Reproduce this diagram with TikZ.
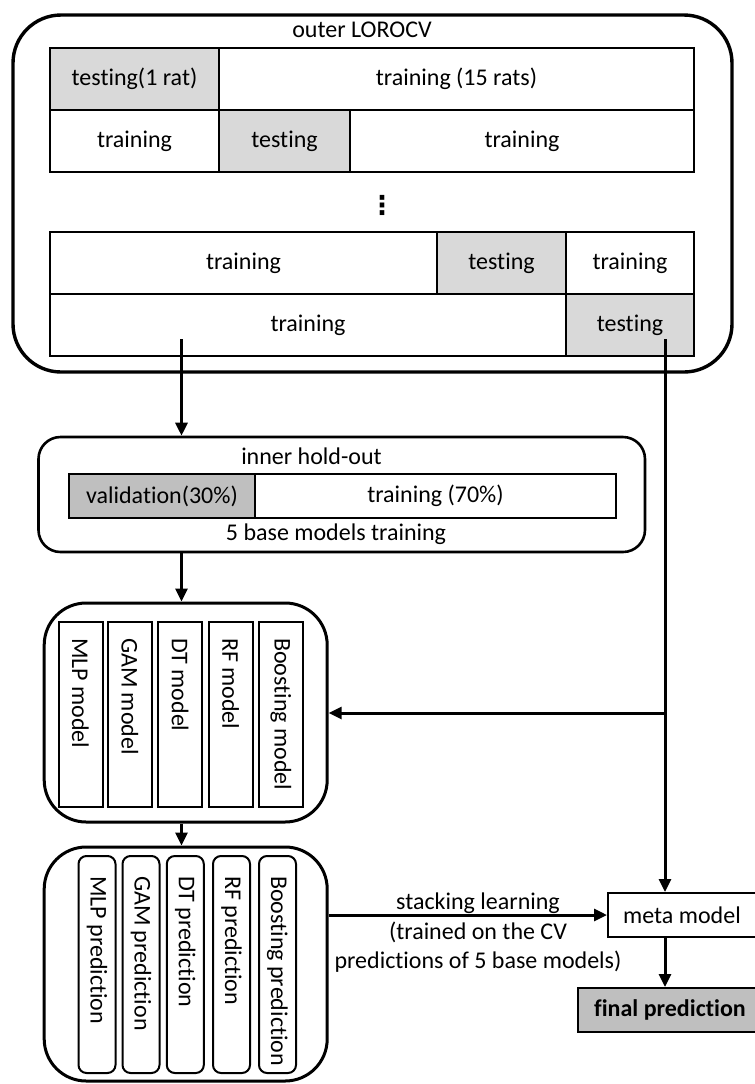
\documentclass[tikz,border=0pt]{standalone}
\usepackage{fontspec}
\setmainfont{Carlito}[Ligatures=NoCommon]
\newfontfamily\dotsfont{DejaVu Sans}
\usetikzlibrary{arrows.meta, positioning}

\begin{document}
\begin{tikzpicture}[x=0.5pt, y=-0.5pt, >={Triangle[length=6.5pt, width=6pt]},
    font=\fontsize{12}{14.75}\selectfont,
    cell/.style={draw, line width=1pt, outer sep=0pt, inner sep=0pt,
                 minimum height=31pt, anchor=west},
    testcell/.style={cell, fill=black!15},
    modelbar/.style={draw, line width=1pt, rotate=-90, minimum width=92.5pt,
                     minimum height=22pt, inner xsep=8pt, inner ysep=0pt},
    predbar/.style={draw, line width=1pt, rounded corners=4pt, rotate=-90,
                    minimum width=108.5pt, minimum height=18.5pt,
                    inner xsep=10pt, inner ysep=0pt},
    conn/.style={line width=1.5pt}]
  \useasboundingbox (0,0) rectangle (755,1084);

  % outer cross-validation
  \node[draw, line width=1.7pt, rounded corners=24pt, minimum width=359.5pt,
        minimum height=178.5pt] (outer) at (372.5,193.5) {};
  \node (outertitle) at (362,30) {outer LOROCV};

  \node[testcell, minimum width=84.5pt] (r1a) at (50,79) {testing(1 rat)};
  \node[cell, minimum width=237.5pt, right=0pt of r1a] (r1b) {training (15 rats)};

  \node[cell, minimum width=84.5pt] (r2a) at (50,141) {training};
  \node[testcell, minimum width=65.5pt, right=0pt of r2a] (r2b) {testing};
  \node[cell, minimum width=172pt, right=0pt of r2b] (r2c) {training};

  \node[font=\fontsize{13}{14}\dotsfont\bfseries] (dots) at (382,205) {⋮};

  \node[cell, minimum width=193.5pt] (r3a) at (50,263) {training};
  \node[testcell, minimum width=64.5pt, right=0pt of r3a] (r3b) {testing};
  \node[cell, minimum width=64pt, right=0pt of r3b] (r3c) {training};

  \node[cell, minimum width=258pt] (r4a) at (50,325) {training};
  \node[testcell, minimum width=64pt, right=0pt of r4a] (r4b) {testing};

  % inner hold-out
  \node[draw, line width=1.3pt, rounded corners=11pt, minimum width=303.25pt,
        minimum height=57.5pt] (inner) at (341.75,494.5) {};
  \node (innertitle) at (311.5,456) {inner hold-out};
  \node[cell, fill=black!25, minimum height=22pt, minimum width=93pt]
    (valid) at (69,496) {validation(30\%)};
  \node[cell, minimum height=22pt, minimum width=180.5pt, right=0pt of valid]
    (train) {training (70\%)};
  \node (innernote) at (336,534) {5 base models training};

  % base models
  \node[draw, line width=1.5pt, rounded corners=21pt, minimum width=141.5pt,
        minimum height=109.5pt] (models) at (185.7,712.5) {};
  \node[modelbar] (mlp) at (80.5,714.5) {\makebox[76.5pt][l]{MLP model}};
  \node[modelbar] (gam) at (130,714.5) {\makebox[76.5pt][l]{GAM model}};
  \node[modelbar] (dt) at (180,714.5) {\makebox[76.5pt][l]{DT model}};
  \node[modelbar] (rf) at (230.5,714.5) {\makebox[76.5pt][l]{RF model}};
  \node[modelbar] (boost) at (281,714.5) {\makebox[76.5pt][l]{Boosting model}};

  % base model predictions
  \node[draw, line width=1.5pt, rounded corners=21pt, minimum width=141.5pt,
        minimum height=117pt] (preds) at (185.7,964) {};
  \node[predbar] (mlppred) at (97,964.5) {\makebox[88.5pt][l]{MLP prediction}};
  \node[predbar] (gampred) at (141,964.5) {\makebox[88.5pt][l]{GAM prediction}};
  \node[predbar] (dtpred) at (185.3,964.5) {\makebox[88.5pt][l]{DT prediction}};
  \node[predbar] (rfpred) at (231.5,964.5) {\makebox[88.5pt][l]{RF prediction}};
  \node[predbar] (boostpred) at (277.5,964.5) {\makebox[88.5pt][l]{Boosting prediction}};

  % meta learner
  \node[draw, line width=1pt, minimum width=74pt, minimum height=22pt]
    (meta) at (682,915) {meta model};
  \node[draw, line width=1pt, fill=black!25, minimum width=92pt, minimum height=22pt,
        font=\fontsize{12}{14.75}\selectfont\bfseries] (final) at (670,1010) {final prediction};
  \node[align=center] (stacklbl) at (478,933)
    {stacking learning\\(trained on the CV\\predictions of 5 base models)};

  \coordinate (trsrc) at (181.5,339);
  \coordinate (tesrc) at (665,339);
  \coordinate (split) at (665,713);
  \draw[->, conn] (trsrc) -- (trsrc |- inner.north);
  \draw[->, conn] (trsrc |- inner.south) -- (trsrc |- models.north);
  \draw[->, conn] (trsrc |- models.south) -- (trsrc |- preds.north);
  \draw[->, conn] (tesrc) -- (tesrc |- meta.north);
  \draw[->, conn] (split) -- (models.east |- split);
  \draw[->, conn] (preds.east |- meta.west) -- (meta.west);
  \draw[->, conn] (tesrc |- meta.south) -- (tesrc |- final.north);
\end{tikzpicture}
\end{document}
